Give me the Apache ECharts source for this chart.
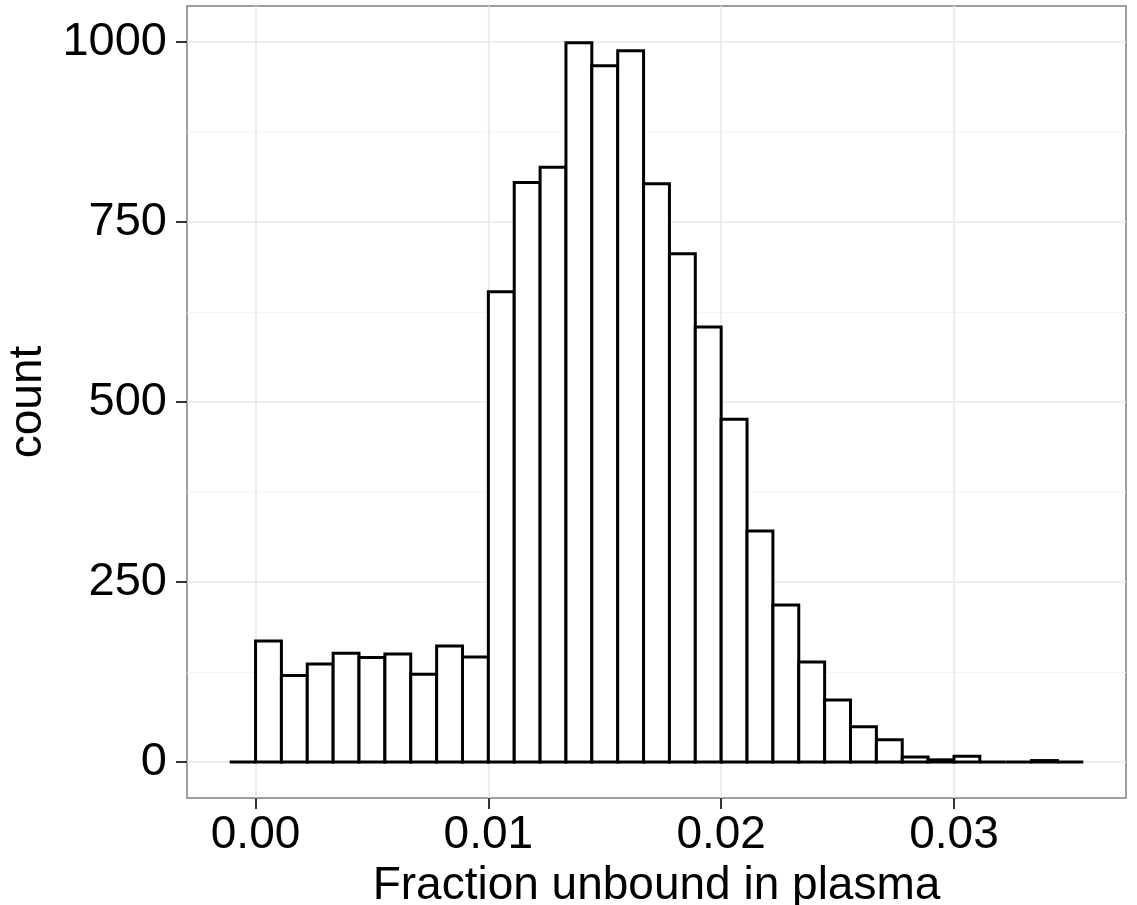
<!DOCTYPE html>
<html>
<head>
<meta charset="utf-8">
<script src="https://cdn.jsdelivr.net/npm/echarts@6/dist/echarts.min.js"></script>
<style>
html,body{margin:0;padding:0;background:#fff;}
#chart{width:1137px;height:905px;}
</style>
</head>
<body>
<div id="chart"></div>
<script>
// Histogram bin edges (fraction unbound in plasma)
var binEdges = [-0.001111, 0, 0.001111, 0.002222, 0.003333, 0.004444, 0.005556, 0.006667,
  0.007778, 0.008889, 0.01, 0.011111, 0.012222, 0.013333, 0.014444, 0.015556, 0.016667,
  0.017778, 0.018889, 0.02, 0.021111, 0.022222, 0.023333, 0.024444, 0.025556, 0.026667,
  0.027778, 0.028889, 0.03, 0.031111, 0.032222, 0.033333, 0.034444, 0.035556];
// Counts per bin
var binCounts = [0, 168, 120, 136, 151, 145, 150, 122, 161, 146, 653, 805, 826, 999, 967, 988,
  803, 706, 604, 476, 321, 218, 139, 86, 49, 31, 7, 3, 8, 0, 0, 2, 0];
// Axis ticks
var xTicks = [0, 0.01, 0.02, 0.03];
var xTickLabels = ['0.00', '0.01', '0.02', '0.03'];
var xMinorGrid = [0.005, 0.015, 0.025, 0.035];
var yTicks = [0, 250, 500, 750, 1000];
var yTickLabels = ['0', '250', '500', '750', '1000'];
var yMinorGrid = [125, 375, 625, 875];
var xRange = [-0.0029444, 0.0373889];
var yRange = [-50, 1050];

var histData = [];
for (var i = 0; i < binCounts.length; i++) {
  histData.push([binEdges[i], binEdges[i + 1], binCounts[i]]);
}

var chart = echarts.init(document.getElementById('chart'), null, {renderer: 'canvas'});
var font = 'Liberation Sans, Arial, sans-serif';

function gridLines(vals, key, color, width) {
  return vals.map(function (v) {
    var o = {lineStyle: {color: color, width: width, type: 'solid'}};
    o[key] = v;
    return o;
  });
}
function pickLabel(ticks, labels) {
  return function (v) {
    for (var k = 0; k < ticks.length; k++) {
      if (Math.abs(ticks[k] - v) < 1e-9) return labels[k];
    }
    return '';
  };
}

var option = {
  animation: false,
  backgroundColor: '#ffffff',
  grid: {
    left: 187, right: 11, top: 6, bottom: 107,
    outerBoundsMode: 'none',
    containLabel: false,
    show: true, borderColor: '#7f7f7f', borderWidth: 1.5, backgroundColor: 'transparent'
  },
  xAxis: {
    type: 'value',
    position: 'bottom',
    min: xRange[0], max: xRange[1],
    name: 'Fraction unbound in plasma',
    nameLocation: 'middle',
    nameGap: 50,
    nameTextStyle: {fontFamily: font, fontSize: 46, color: '#000'},
    axisLine: {show: false, onZero: false},
    axisTick: {show: true, inside: false, length: 11, customValues: xTicks, lineStyle: {color: '#333', width: 2}},
    axisLabel: {
      show: true, margin: 14, customValues: xTicks,
      fontFamily: font, fontSize: 46, color: '#000',
      formatter: pickLabel(xTicks, xTickLabels)
    },
    splitLine: {show: false}
  },
  yAxis: {
    type: 'value',
    position: 'left',
    min: yRange[0], max: yRange[1],
    name: 'count',
    nameLocation: 'middle',
    nameGap: 126,
    nameRotate: 90,
    nameTextStyle: {fontFamily: font, fontSize: 46, color: '#000'},
    axisLine: {show: false, onZero: false},
    axisTick: {show: true, inside: false, length: 11, customValues: yTicks, lineStyle: {color: '#333', width: 2}},
    axisLabel: {
      show: true, margin: 20, customValues: yTicks,
      fontFamily: font, fontSize: 47, color: '#000',
      formatter: pickLabel(yTicks, yTickLabels)
    },
    splitLine: {show: false}
  },
  series: [
    {
      type: 'line',
      data: [],
      z: 1,
      silent: true,
      markLine: {
        z: 1,
        silent: true,
        symbol: 'none',
        label: {show: false},
        animation: false,
        data: []
          .concat(gridLines(xMinorGrid, 'xAxis', '#f5f5f5', 1.2))
          .concat(gridLines(yMinorGrid, 'yAxis', '#f5f5f5', 1.2))
          .concat(gridLines(xTicks, 'xAxis', '#e8e8e8', 1.5))
          .concat(gridLines(yTicks, 'yAxis', '#e8e8e8', 1.5))
      }
    },
    {
      type: 'custom',
      z: 10,
      data: histData,
      encode: {x: [0, 1], y: 2},
      renderItem: function (params, api) {
        var x0 = api.value(0), x1 = api.value(1), c = api.value(2);
        var p0 = api.coord([x0, c]);
        var p1 = api.coord([x1, 0]);
        return {
          type: 'rect',
          shape: {x: p0[0], y: p0[1], width: p1[0] - p0[0], height: p1[1] - p0[1]},
          style: {fill: '#ffffff', stroke: '#000000', lineWidth: 3}
        };
      }
    }
  ]
};
chart.setOption(option);
</script>
</body>
</html>
